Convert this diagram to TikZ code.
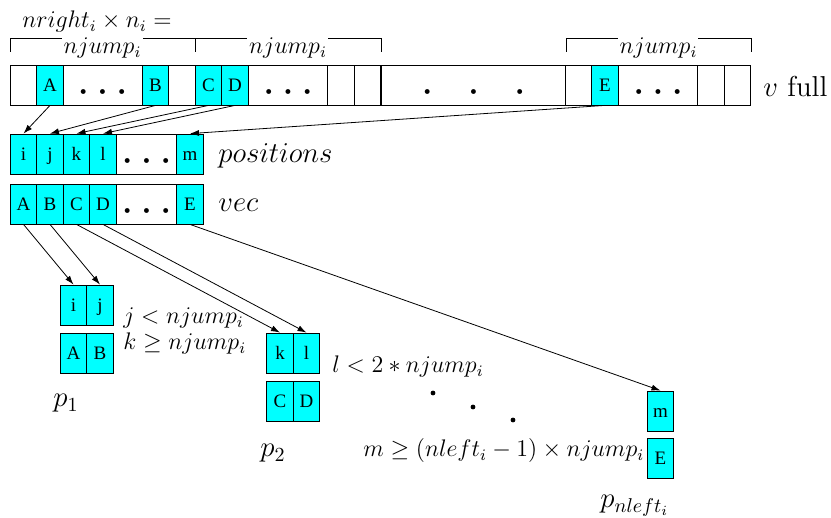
\documentclass[tikz,border=0pt]{standalone}
\usepackage{fontspec}
\newfontfamily\cellfont{Liberation Serif}
\usetikzlibrary{arrows.meta}

\definecolor{aqua}{RGB}{0,255,255}

% dots inside the cells
\newcommand{\celldots}{\raisebox{-1.5pt}{\fontsize{4.2}{5}\selectfont$\bullet\hspace{4.3pt}\bullet\hspace{4.3pt}\bullet$}}
\newcommand{\bigdots}{\raisebox{-1.5pt}{\fontsize{4.2}{5}\selectfont$\bullet\hspace{17.8pt}\bullet\hspace{17.8pt}\bullet$}}

\tikzset{
  cell/.style={draw, fill=aqua, minimum width=13.25pt, minimum height=20pt, inner sep=0pt,
    text height=6.5pt, text depth=0pt, font=\cellfont\fontsize{9.5}{10}\selectfont},
  blank/.style={cell, fill=white},
  lbl/.style={anchor=base west, inner sep=0pt, font=\Large},
  cond/.style={anchor=base west, inner sep=0pt, font=\large},
  jump/.style={anchor=base, inner sep=0pt, font=\large},
  link/.style={-{Latex[length=4.5pt,width=3pt]}},
}

\begin{document}
\begin{tikzpicture}[x=0.5pt, y=-0.5pt]
\useasboundingbox (0,0) rectangle (831,518);

% brackets over v
\node[cond, anchor=base] (nright) at (97,28) {$nright_i \times n_i =$};
\draw (10,52) -- (10,38) -- (62,38);
\draw (143,38) -- (195,38) -- (195,52);
\node[jump] (jump1) at (102.5,54) {$njump_i$};
\draw (195,38) -- (247,38);
\draw (328,38) -- (381,38) -- (381,52);
\node[jump] (jump2) at (288,54) {$njump_i$};
\draw (566,52) -- (566,38) -- (618,38);
\draw (698,38) -- (751,38) -- (751,52);
\node[jump] (jump3) at (658.5,54) {$njump_i$};

% v full
\node[blank] (v1) at (23.5,85) {};
\node[cell] (vA) at (50,85) {A};
\node[blank, minimum width=39.5pt] (v2) at (102.5,85) {\celldots};
\node[cell] (vB) at (155.5,85) {B};
\node[blank] (v3) at (182,85) {};
\node[cell] (vC) at (208.5,85) {C};
\node[cell] (vD) at (235,85) {D};
\node[blank, minimum width=40pt] (v4) at (288,85) {\celldots};
\node[blank] (v5) at (341,85) {};
\node[blank] (v6) at (367.5,85) {};
\node[blank, minimum width=92.5pt] (v7) at (473.5,85) {\bigdots};
\node[blank] (v8) at (579,85) {};
\node[cell] (vE) at (605,85) {E};
\node[blank, minimum width=40pt] (v9) at (658,85) {\celldots};
\node[blank] (v10) at (711,85) {};
\node[blank] (v11) at (737.5,85) {};
\node[lbl] (vlbl) at (763,97) {$v$ full};

% positions
\node[cell] (pi) at (23.5,154) {i};
\node[cell] (pj) at (50,154) {j};
\node[cell] (pk) at (76.5,154) {k};
\node[cell] (pl) at (103,154) {l};
\node[blank, minimum width=30.5pt] (pdots) at (146.5,154) {\celldots};
\node[cell] (pm) at (190,154) {m};
\node[lbl] (plbl) at (218,163) {$positions$};

% vec
\node[cell] (qA) at (23.5,204) {A};
\node[cell] (qB) at (50,204) {B};
\node[cell] (qC) at (76.5,204) {C};
\node[cell] (qD) at (103,204) {D};
\node[blank, minimum width=30.5pt] (qdots) at (146.5,204) {\celldots};
\node[cell] (qE) at (190,204) {E};
\node[lbl] (qlbl) at (218,212) {$vec$};

% p_1
\node[cell] (ai) at (73.5,305) {i};
\node[cell] (aj) at (100,305) {j};
\node[cell] (aA) at (73.5,353) {A};
\node[cell] (aB) at (100,353) {B};
\node[lbl] (albl) at (53,407) {$p_1$};

% p_2
\node[cell] (bk) at (280,353) {k};
\node[cell] (bl) at (306.5,353) {l};
\node[cell] (bC) at (280,401) {C};
\node[cell] (bD) at (306.5,401) {D};
\node[lbl] (blbl) at (260,457) {$p_2$};

% p_nleft
\node[cell] (cm) at (660.5,411) {m};
\node[cell] (cE) at (660.5,458) {E};
\node[lbl] (clbl) at (600,508) {$p_{nleft_i}$};

% conditions
\node[cond] (c1) at (123,324) {$j < njump_i$};
\node[cond] (c2) at (123,350) {$k \geq njump_i$};
\node[cond] (c3) at (332,373) {$l < 2*njump_i$};
\node[cond] (c4) at (363,457) {$m \geq (nleft_i - 1) \times njump_i$};
\fill (433,393) circle[radius=1.2pt];
\fill (473,407) circle[radius=1.2pt];
\fill (513,420) circle[radius=1.2pt];

% arrows
\draw[link] (vA.south) -- (pi.north);
\draw[link] (vB.south) -- (pj.north);
\draw[link] (vC.south) -- (pk.north);
\draw[link] (vD.south) -- (pl.north);
\draw[link] (vE.south) -- (pm.north);
\draw[link] (qA.south) -- (ai.north);
\draw[link] (qB.south) -- (aj.north);
\draw[link] (qC.south) -- (bk.north);
\draw[link] (qD.south) -- (bl.north);
\draw[link] (qE.south) -- (cm.north);
\end{tikzpicture}
\end{document}
